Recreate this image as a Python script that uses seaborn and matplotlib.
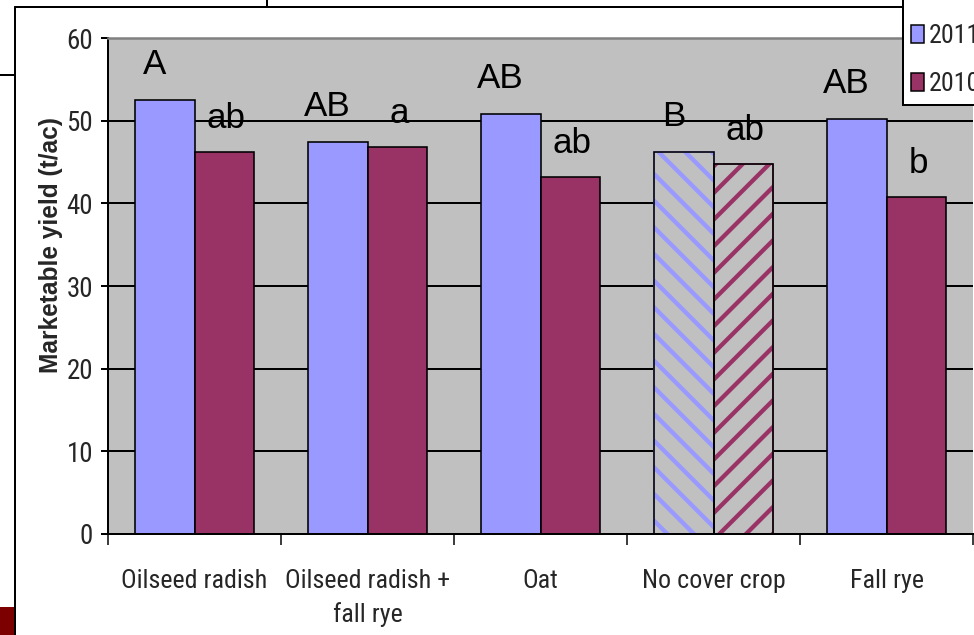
import numpy as np
import pandas as pd
import matplotlib
matplotlib.use("Agg")
import matplotlib.pyplot as plt
import seaborn as sns
from matplotlib import font_manager
from matplotlib.font_manager import FontProperties
from matplotlib.patches import Rectangle, Patch
from matplotlib.lines import Line2D

# data
crops = ["Oilseed radish", "Oilseed radish +\nfall rye", "Oat", "No cover crop", "Fall rye"]
years = ["2011", "2010"]
yield_2011 = [52.5, 47.4, 50.8, 46.2, 50.2]
yield_2010 = [46.2, 46.8, 43.2, 44.8, 40.8]
letters_2011 = ["A", "AB", "AB", "B", "AB"]
letters_2010 = ["ab", "a", "ab", "ab", "b"]
yticks = [0, 10, 20, 30, 40, 50, 60]
colors = ["#9999FF", "#993366"]

DPI = 80
W, H = 974, 635


def px(v):
    # pixels -> points
    return v * 72 / DPI


sns.set_theme(style="white")
plt.rcParams["font.family"] = ["Liberation Sans", "DejaVu Sans"]
plt.rcParams["hatch.linewidth"] = px(4.3)

# pick a narrow face for the tick labels (Arial Narrow look)
entries = font_manager.fontManager.ttflist
names = {f.name for f in entries}
cond = {f.name for f in entries if str(f.stretch) in ("condensed", "semi-condensed", "500", "75", "87")}
if "Liberation Sans Narrow" in names:
    narrow = {"family": "Liberation Sans Narrow"}
elif "Roboto Condensed" in names:
    narrow = {"family": "Roboto Condensed"}
elif "DejaVu Sans" in cond:
    narrow = {"family": "DejaVu Sans", "stretch": "condensed"}
else:
    narrow = {"family": "Liberation Sans", "stretch": "normal"}
is_narrow = narrow["family"] != "Liberation Sans"
k_sz = 1.0 if is_narrow else 0.84


def nfont(size):
    return FontProperties(size=px(size * k_sz), **narrow)


df = pd.DataFrame({
    "crop": crops * 2,
    "year": [years[0]] * len(crops) + [years[1]] * len(crops),
    "yield": yield_2011 + yield_2010,
})

fig = plt.figure(figsize=(W / DPI, H / DPI), dpi=DPI)
fig.patch.set_facecolor("white")
ax = fig.add_axes([108 / W, 1 - 534 / H, 865 / W, 496 / H])
ax.set_facecolor("#C0C0C0")

sns.barplot(data=df, x="crop", y="yield", hue="year", order=crops, hue_order=years,
            palette=colors, width=0.69, gap=0, saturation=1, errorbar=None,
            edgecolor="black", linewidth=px(1.6), legend=False, ax=ax)

# striped "No cover crop" bars
hatches = ["\\", "/"]
for k, cont in enumerate(ax.containers):
    bar = cont[3]
    bar.set_facecolor("#C0C0C0")
    bar.set_edgecolor(colors[k])
    bar.set_hatch(hatches[k])
    ax.add_patch(Rectangle((bar.get_x(), bar.get_y()), bar.get_width(), bar.get_height(),
                           fill=False, ec="black", lw=px(1.6), zorder=bar.get_zorder() + 0.1))

# significance letters
offsets = [(-10, 26), (2, 24)]
for k, (cont, letters) in enumerate(zip(ax.containers, [letters_2011, letters_2010])):
    for bar, let in zip(cont, letters):
        ax.annotate(let, xy=(bar.get_x() + bar.get_width() / 2, bar.get_height()),
                    xytext=offsets[k], textcoords="offset pixels",
                    ha="center", va="baseline", fontsize=px(35), color="black")

ax.set_ylim(0, 60)
ax.set_xlim(-0.5, len(crops) - 0.5)
ax.set_yticks(yticks)
ax.set_yticklabels([str(t) for t in yticks], fontproperties=nfont(27))
ax.set_xticks(range(len(crops)))
ax.set_xticklabels(crops, fontproperties=nfont(26), linespacing=1.45)
ax.set_xticks(np.arange(-0.5, len(crops), 1), minor=True)
ax.tick_params(axis="y", left=True, direction="out", length=px(7), width=px(2),
               color="black", pad=px(8))
ax.tick_params(axis="x", which="major", length=0, pad=px(35))
ax.tick_params(axis="x", which="minor", bottom=True, direction="out", length=px(11),
               width=px(1.5), color="black")

ax.yaxis.grid(True, color="black", lw=px(2))
ax.set_axisbelow(True)

ax.set_xlabel("")
ax.set_ylabel("Marketable yield (t/ac)", fontweight="bold", fontsize=px(24.5))
ax.yaxis.set_label_coords(-0.052, 0.582)

for s in ["left", "bottom"]:
    ax.spines[s].set_color("black")
    ax.spines[s].set_linewidth(px(2))
ax.spines["top"].set_color("#808080")
ax.spines["top"].set_linewidth(px(2.5))
ax.spines["right"].set_visible(False)

# slide frame pieces around the chart
tf = fig.transFigure
lw = px(2)
fig.add_artist(Line2D([15 / W, 903 / W], [1 - 7 / H] * 2, transform=tf, color="black", lw=lw))
fig.add_artist(Line2D([15 / W] * 2, [0, 1 - 7 / H], transform=tf, color="black", lw=lw))
fig.add_artist(Line2D([0, 15 / W], [1 - 75 / H] * 2, transform=tf, color="black", lw=lw))
fig.add_artist(Line2D([267 / W] * 2, [1 - 7 / H, 1], transform=tf, color="black", lw=lw))
fig.add_artist(Rectangle((953 / W, 1 - 7 / H), 21 / W, 7 / H, transform=tf,
                         fc="#6e6e6e", ec="none"))
fig.add_artist(Rectangle((0, 0), 14 / W, 28 / H, transform=tf, fc="#7d0000", ec="none"))

# legend box
fig.add_artist(Rectangle((903 / W, 1 - 105 / H), 100 / W, 120 / H, transform=tf,
                         fc="white", ec="black", lw=lw))
handles = [Patch(facecolor=c, edgecolor="black", lw=px(1.5)) for c in colors]
fig.legend(handles, years, frameon=False, loc="upper left",
           bbox_to_anchor=(911 / W, 1 - 24 / H), borderpad=0, borderaxespad=0,
           handlelength=0.5, handleheight=0.7, handletextpad=0.2, labelspacing=0.92,
           prop=nfont(26))

fig.savefig("out.png", dpi=DPI)
